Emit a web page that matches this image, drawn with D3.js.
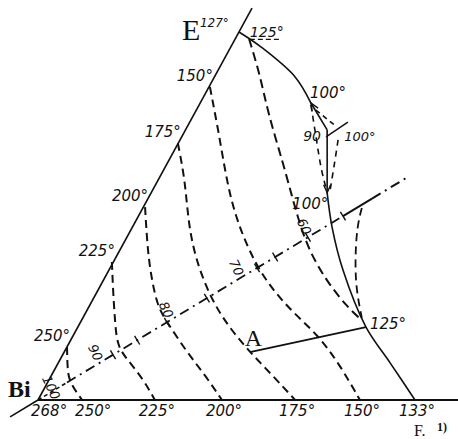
<!DOCTYPE html>
<html>
<head>
<meta charset="utf-8">
<script src="https://cdn.jsdelivr.net/npm/d3@7/dist/d3.min.js"></script>
<style>
  body { margin: 0; background: #fff; }
  svg { display: block; }
  .num { font-family: "DejaVu Sans", sans-serif; font-style: italic; font-size: 15px; fill: #111; }
  .big { font-family: "Liberation Serif", serif; fill: #111; }
</style>
</head>
<body>
<script>
// diagram units: u along Bi->F base (0..100), v height (0..100, E at top)
var width = 458, height = 439;

var cornerE = [53.3, 100];
var sectionLine = [[0, 0], [98.1, 60.6]];

// isotherms (dashed), from the Bi-E side down to the base
var isoTemps = [250, 225, 200, 175, 150];
var iso250 = [[7.7, 14.4], [7.8, 9.0], [8.2, 5.0], [11.7, 0]];
var iso225 = [[19.6, 37.5], [19.9, 29.9], [20.4, 21.7], [21.0, 14.7], [23.6, 11.1], [27.9, 5.7], [31.0, 0]];
var iso200 = [[28.4, 52.4], [28.9, 43.5], [29.7, 35.3], [31.6, 25.5], [34.2, 21.2], [39.5, 13.0], [44.3, 6.8], [48.8, 0]];
var iso175 = [[37.1, 69.8], [39.0, 59.8], [39.8, 48.9], [41.6, 38.9], [45.6, 28.0], [50.4, 20.1], [56.2, 13.0], [62.1, 6.8], [68.2, 0]];
var iso150 = [[45.6, 85.1], [48.3, 70.7], [50.9, 54.3], [55.4, 41.6], [60.2, 32.6], [66.8, 24.5], [74.3, 17.7], [80.1, 9.5], [85.4, 0]];
var isoCurves = [iso250, iso225, iso200, iso175, iso150];
var iso125 = [[56.0, 98.1], [58.9, 88.3], [61.0, 78.0], [65.0, 64.4], [67.4, 55.2], [69.5, 47.6], [72.1, 40.2], [76.7, 32.1], [82.0, 25.3], [85.9, 21.7]];
var isoRight = [[85.9, 52.2], [84.6, 47.0], [84.1, 38.0], [84.4, 29.9], [85.9, 22.3]];
var iso90a = [[72.4, 80.2], [74.0, 69.8], [75.1, 62.5], [76.7, 56.5]];
var iso90b = [[79.6, 70.7], [78.8, 65.2], [77.5, 57.1]];
var iso90c = [[73.7, 78.8], [79.3, 74.2]];

// base temperatures
var baseTemps = [268, 250, 225, 200, 175, 150, 133];
var basePos = [0, 11.7, 31.0, 48.8, 68.2, 85.4, 100];

// solid boundary curve E -> F
var boundaryTop = [cornerE, [59.2, 95.9], [68.2, 87.8], [72.4, 80.7]];
var point100 = [72.4, 80.7];
var point90 = [76.7, 73.4];
var point90low = [76.7, 56.3];
var boundaryLow = [point90low, [78.0, 47.0], [80.9, 35.3], [87.0, 19.8], [93.4, 10.1], [100, 0]];
var crossTick = [[76.4, 71.5], [82.2, 75.5]];
var pointA = [56.2, 13.0];
var point125 = [87.0, 19.8];

// section line ticks and percentage labels
var sectionTicks = [19.9, 26.3, 34.2, 44.8, 58.1, 62.9, 71.6];
var sectionLabels = ["100", "90", "80", "70", "60"];
var sectionLabelPos = [4.0, 16.7, 35.5, 54.1, 72.1];

var x = d3.scaleLinear().domain([0, 100]).range([38, 415]);
var y = d3.scaleLinear().domain([0, 100]).range([400, 32]);

var svg = d3.select("body").append("svg")
	.attr("width", width)
	.attr("height", height);

svg.append("defs").append("marker")
	.attr("id", "arr")
	.attr("viewBox", "-10 -6 12 12")
	.attr("markerWidth", 12).attr("markerHeight", 12)
	.attr("markerUnits", "userSpaceOnUse")
	.attr("orient", "auto")
	.append("path")
	.attr("d", "M-8,-3.5 L0,0 L-8,3.5")
	.attr("fill", "none").attr("stroke", "#111").attr("stroke-width", 1.4);

var smooth = d3.line().x(d => x(d[0])).y(d => y(d[1])).curve(d3.curveBasis);
var line = d3.line().x(d => x(d[0])).y(d => y(d[1])).curve(d3.curveCatmullRom);
var straight = d3.line().x(d => x(d[0])).y(d => y(d[1]));

function drawPath(pts, gen, sw, dash) {
	return svg.append("path")
		.attr("d", gen(pts))
		.attr("fill", "none")
		.attr("stroke", "#111")
		.attr("stroke-width", sw)
		.attr("stroke-dasharray", dash || null);
}

// frame: base and Bi-E side
var k = sectionLine[1][1] / sectionLine[1][0];
drawPath([[0, 0], [(width - 38) / 3.77, 0]], straight, 1.8);
drawPath([[0, 0], [cornerE[0] * 1.065, cornerE[1] * 1.065]], straight, 1.6);

// isotherms
isoCurves.forEach(function(c) { drawPath(c, smooth, 2, "8,5"); });
drawPath(iso125, smooth, 2, "9,5");
drawPath(isoRight, smooth, 1.8, "8,5");
drawPath(iso90a, smooth, 1.6, "6,5");
drawPath(iso90b, smooth, 1.6, "6,5");
drawPath(iso90c, straight, 1.6, "5,4");

// solid boundary
drawPath(boundaryTop, line, 1.6);
drawPath([point90, point100], straight, 1.6).attr("marker-end", "url(#arr)");
drawPath([point90, point90low], straight, 1.6).attr("marker-end", "url(#arr)");
drawPath(boundaryLow, line, 1.6);
drawPath(crossTick, straight, 1.5);
drawPath([pointA, point125], straight, 1.8);

// section line through Bi
function onSec(u) { return [u, u * k]; }
drawPath([onSec(-7.4), onSec(0)], straight, 1.6);
drawPath([onSec(0), onSec(7.7)], straight, 1.6, "4,3");
drawPath([onSec(7.7), onSec(80.9)], straight, 1.8, "10,5,2,5");
drawPath([onSec(80.9), onSec(88.6)], straight, 2);
drawPath([onSec(88.6), onSec(98.1)], straight, 2, "10,5,2,5");

var dx = x(sectionLine[1][0]) - x(0), dy = y(sectionLine[1][1]) - y(0);
var len = Math.sqrt(dx * dx + dy * dy);
var nx = dy / len, ny = -dx / len; // normal pointing up-left
svg.selectAll(".sectick")
	.data(sectionTicks.concat([80.9]))
	.enter().append("line")
	.attr("class", "sectick")
	.attr("x1", d => x(d) - nx * 5).attr("y1", d => y(d * k) - ny * 5)
	.attr("x2", d => x(d) + nx * 5).attr("y2", d => y(d * k) + ny * 5)
	.attr("stroke", "#111").attr("stroke-width", 1.4);

svg.selectAll(".seclab")
	.data(sectionLabels)
	.enter().append("text")
	.attr("class", "num")
	.style("font-size", "13px")
	.attr("text-anchor", "middle")
	.attr("dominant-baseline", "central")
	.attr("transform", function(d, i) {
		var u = sectionLabelPos[i];
		var off = i == 0 ? 4 : 11;
		return "translate(" + (x(u) + nx * off) + "," + (y(u * k) + ny * off) + ") rotate(65)";
	})
	.text(d => d);

// side labels
svg.selectAll(".sidelab")
	.data(isoTemps)
	.enter().append("text")
	.attr("class", "num")
	.attr("text-anchor", "end")
	.attr("x", (d, i) => x(isoCurves[i][0][0]) + 3)
	.attr("y", (d, i) => y(isoCurves[i][0][1]) - 6)
	.text(d => d + "°");

svg.selectAll(".baselab")
	.data(baseTemps)
	.enter().append("text")
	.attr("class", "num")
	.attr("text-anchor", (d, i) => i < 2 ? "start" : "middle")
	.attr("x", (d, i) => x(basePos[i]) + (i < 2 ? -7 : 2))
	.attr("y", 416)
	.text(d => d + "°");

function label(txt, px, py, size) {
	return svg.append("text").attr("class", "num")
		.attr("x", px).attr("y", py)
		.style("font-size", size + "px")
		.text(txt);
}
label("125°", x(point125[0]) + 4, y(point125[1]) + 2, 15);
label("100°", x(point100[0]) - 1, y(point100[1]) - 5, 15);
label("100°", x(point90low[0]) - 35, y(point90low[1]) + 16, 15);
label("90", x(point90[0]) - 24, y(point90[1]) + 11, 14);
label("100°", x(point90[0]) + 17, y(point90[1]) + 11, 13);
label("125°", x(cornerE[0]) + 11, y(cornerE[1]) + 5, 14);
drawPath([[56.2, 98.0], [64.3, 98.0]], straight, 1.2, "5,3");

svg.append("text").attr("class", "big")
	.attr("x", x(cornerE[0]) - 57).attr("y", y(cornerE[1]) + 8)
	.style("font-size", "30px").text("E");
label("127°", x(cornerE[0]) - 39, y(cornerE[1]) - 5, 12);

svg.append("text").attr("class", "big")
	.attr("x", 8).attr("y", 397)
	.style("font-size", "24px").style("font-weight", "bold").text("Bi");

svg.append("text").attr("class", "big")
	.attr("x", x(pointA[0]) - 5).attr("y", y(pointA[1]) - 6)
	.style("font-size", "24px").text("A");

svg.append("text").attr("class", "big")
	.attr("x", 414).attr("y", 436)
	.style("font-size", "16px").text("F.");
svg.append("text").attr("class", "big")
	.attr("x", 437).attr("y", 431)
	.style("font-size", "12px").style("font-weight", "bold").text("1)");
</script>
</body>
</html>
